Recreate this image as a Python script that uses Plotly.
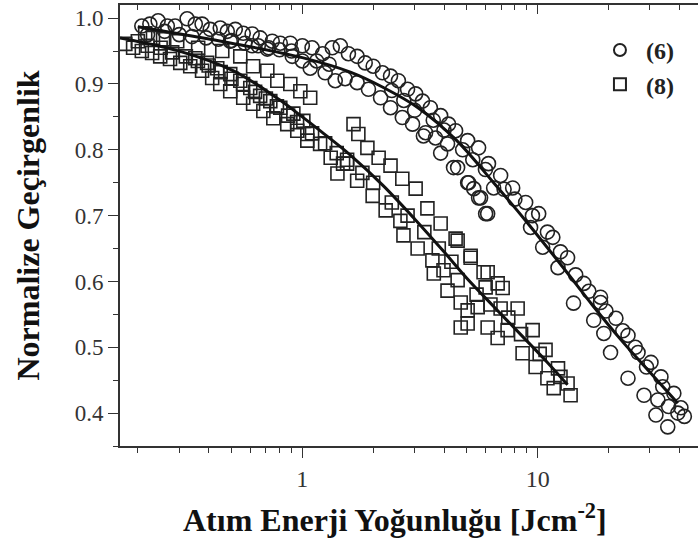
import math
import plotly.graph_objects as go

# ---- data: series (6) circles ----
c6_x = [0.208, 0.225, 0.244, 0.267, 0.288, 0.324, 0.351, 0.375, 0.406, 0.448, 0.480, 0.519,
        0.561, 0.612, 0.662, 0.745, 0.806, 0.889, 1.00, 1.10, 0.906, 1.00, 1.08, 1.22, 1.34,
        1.45, 1.57, 1.71, 1.85, 2.00, 2.19, 2.37, 2.56, 2.80, 3.03, 3.24, 3.50, 3.87, 4.18,
        4.48, 5.04, 5.61, 1.25, 1.38, 1.52, 1.71, 1.91, 2.15, 2.37, 2.66, 2.94, 3.34, 3.68,
        4.14, 3.27, 3.87, 4.39, 5.04, 5.72, 6.13, 5.35, 6.18, 6.50, 4.57, 5.09, 5.61, 6.01,
        6.96, 7.83, 8.89, 10.1, 11.6, 13.4, 15.7, 18.5, 9.33, 10.5, 12.2, 18.5, 21.5, 24.2,
        26.7, 30.3, 33.4, 37.9, 40.6, 14.2, 17.3, 19.1, 20.4, 24.2, 28.3, 32.4, 31.8, 35.7,
        39.4, 0.612, 0.710, 0.494,
        0.22, 0.26, 0.30, 0.34, 0.39, 0.44, 0.50, 0.57, 0.65, 0.72, 0.80, 0.90, 1.15, 1.30,
        2.40, 2.70, 3.00, 3.60, 4.00, 4.80, 5.30, 6.00, 7.20, 8.00, 9.50, 11.0, 12.5, 14.5,
        16.5, 19.5, 23.0, 26.0, 29.0, 34.0, 36.0, 42.0]
c6_y = [0.988, 0.991, 0.996, 0.988, 0.988, 0.999, 0.991, 0.991, 0.983, 0.985, 0.980, 0.983,
        0.977, 0.976, 0.970, 0.965, 0.962, 0.962, 0.958, 0.955, 0.942, 0.935, 0.924, 0.946, 0.955,
        0.958, 0.946, 0.942, 0.932, 0.927, 0.917, 0.912, 0.905, 0.892, 0.885, 0.874, 0.864, 0.852, 0.839,
        0.829, 0.814, 0.803, 0.917, 0.905, 0.908, 0.902, 0.892, 0.879, 0.864, 0.849, 0.839, 0.826, 0.818,
        0.809, 0.821, 0.795, 0.773, 0.750, 0.727, 0.703, 0.741, 0.779, 0.742, 0.773, 0.750, 0.727, 0.703,
        0.761, 0.742, 0.720, 0.703, 0.667, 0.636, 0.597, 0.576, 0.682, 0.652, 0.621, 0.568, 0.544, 0.518,
        0.492, 0.477, 0.455, 0.430, 0.408, 0.567, 0.541, 0.521, 0.492, 0.453, 0.427, 0.420, 0.397, 0.379,
        0.400, 0.958, 0.953, 0.965,
        0.975, 0.980, 0.975, 0.972, 0.970, 0.968, 0.966, 0.962, 0.958, 0.955, 0.952, 0.950, 0.935, 0.930,
        0.890, 0.875, 0.860, 0.845, 0.830, 0.800, 0.785, 0.770, 0.740, 0.725, 0.700, 0.675, 0.645, 0.610,
        0.585, 0.555, 0.525, 0.500, 0.470, 0.440, 0.410, 0.395]

# ---- data: series (8) squares ----
s8_x = [0.177, 0.191, 0.208, 0.230, 0.249, 0.274, 0.303, 0.334, 0.375, 0.414, 0.448, 0.494,
        0.561, 0.618, 0.683, 0.753, 0.863, 0.952, 1.05,
        0.215, 0.232, 0.256, 0.294, 0.361, 0.457, 0.545, 0.618, 0.710, 0.783, 0.889, 0.981, 1.08,
        0.351, 0.394, 0.435, 0.494, 0.545, 0.601, 0.662, 0.731, 0.806, 0.916, 1.01,
        1.05, 1.19, 1.32, 1.49, 1.71, 1.89, 2.11, 2.37, 2.66, 3.03, 3.40, 3.87, 4.48, 5.19, 5.89,
        6.76, 1.99, 2.26, 2.61, 2.69, 3.09, 3.57, 3.98, 4.57, 1.41, 1.55, 1.65, 1.73,
        3.62, 4.14, 4.71, 5.04, 5.56, 6.01, 6.96, 8.22, 6.13, 6.76, 7.45, 9.52, 8.63, 9.80, 10.8,
        11.0, 12.2, 11.7, 13.4, 13.8, 4.71, 5.04, 4.57, 5.19, 6.13, 7.10,
        0.200, 0.220, 0.250, 0.280, 0.320, 0.360, 0.400, 0.450, 0.500, 0.560, 0.630, 0.700,
        0.780, 0.870, 0.950, 1.10, 1.25, 1.40, 1.55, 1.80, 2.00, 2.40, 2.80, 3.30, 3.80, 4.30,
        5.50, 6.30, 7.50, 8.50, 10.2, 12.5]
s8_y = [0.961, 0.955, 0.950, 0.947, 0.942, 0.938, 0.932, 0.927, 0.920, 0.909, 0.900, 0.889,
        0.879, 0.870, 0.859, 0.848, 0.839, 0.829, 0.814,
        0.977, 0.970, 0.968, 0.965, 0.955, 0.950, 0.942, 0.927, 0.920, 0.905, 0.900, 0.889, 0.879,
        0.939, 0.932, 0.924, 0.915, 0.905, 0.894, 0.882, 0.874, 0.864, 0.855, 0.844,
        0.824, 0.809, 0.788, 0.779, 0.753, 0.803, 0.788, 0.776, 0.756, 0.741, 0.711, 0.688, 0.665, 0.639, 0.614,
        0.597, 0.730, 0.708, 0.692, 0.670, 0.650, 0.632, 0.617, 0.602, 0.764, 0.779, 0.839, 0.824,
        0.612, 0.586, 0.568, 0.536, 0.561, 0.591, 0.559, 0.559, 0.530, 0.514, 0.526, 0.526, 0.491, 0.470, 0.496,
        0.453, 0.468, 0.438, 0.445, 0.427, 0.530, 0.556, 0.662, 0.636, 0.614, 0.590,
        0.965, 0.958, 0.955, 0.948, 0.942, 0.935, 0.928, 0.918, 0.908, 0.900, 0.888, 0.878,
        0.866, 0.852, 0.842, 0.825, 0.810, 0.795, 0.785, 0.765, 0.750, 0.720, 0.700, 0.675, 0.650, 0.630,
        0.580, 0.565, 0.545, 0.520, 0.490, 0.455]

# ---- fitted curves ----
fit6_x = [0.2, 0.5, 1.0, 1.6, 2.2, 3.1, 4.5, 6.5, 9.0, 12.9, 17, 22.5, 30, 39.4]
fit6_y = [0.987, 0.962, 0.940, 0.918, 0.895, 0.864, 0.815, 0.750, 0.690, 0.620, 0.565, 0.512, 0.462, 0.415]
fit8_x = [0.168, 0.3, 0.51, 0.8, 1.0, 1.2, 1.6, 2.2, 3.0, 4.0, 5.0, 6.5, 8.7, 11, 13.4]
fit8_y = [0.970, 0.950, 0.920, 0.876, 0.850, 0.828, 0.792, 0.746, 0.695, 0.645, 0.605, 0.562, 0.515, 0.477, 0.443]

series_names = ["(6)", "(8)"]
x_title = "Atım Enerji Yoğunluğu [Jcm<sup>-2</sup>]"
y_title = "Normalize Geçirgenlik"
x_tick_vals = [1, 10]
x_tick_text = ["1", "10"]
x_minor_vals = [0.2, 0.3, 0.4, 0.5, 0.6, 0.7, 0.8, 0.9, 2, 3, 4, 5, 6, 7, 8, 9, 20, 30, 40, 50]
y_tick_vals = [0.4, 0.5, 0.6, 0.7, 0.8, 0.9, 1.0]
x_range = [0.168, 48]
y_range = [0.35, 1.02]

ink = "#222222"
axis_c = "#333333"
serif = "Liberation Serif, Times New Roman, serif"

fig = go.Figure()
fig.add_trace(go.Scatter(x=c6_x, y=c6_y, mode="markers", name=series_names[0], legendgroup="a",
                         marker=dict(symbol="circle-open", size=14, color=ink, line=dict(width=1.6, color=ink))))
fig.add_trace(go.Scatter(x=s8_x, y=s8_y, mode="markers", name=series_names[1], legendgroup="b",
                         marker=dict(symbol="square-open", size=13, color=ink, line=dict(width=1.6, color=ink))))
fig.add_trace(go.Scatter(x=fit6_x, y=fit6_y, mode="lines", showlegend=False,
                         line=dict(color="#111111", width=3, shape="spline", smoothing=1.0)))
fig.add_trace(go.Scatter(x=fit8_x, y=fit8_y, mode="lines", showlegend=False,
                         line=dict(color="#111111", width=3, shape="spline", smoothing=1.0)))
# invisible trace to host the top axis
fig.add_trace(go.Scatter(x=[x_range[0]], y=[y_range[0]], xaxis="x2", mode="markers",
                         marker=dict(opacity=0), showlegend=False, hoverinfo="skip"))

lr = [math.log10(x_range[0]), math.log10(x_range[1])]

fig.update_layout(
    width=699, height=556,
    margin=dict(l=120, r=1, t=5, b=110),
    paper_bgcolor="white", plot_bgcolor="white",
    font=dict(family=serif, color=axis_c),
    showlegend=True,
    legend=dict(x=0.82, y=0.948, xanchor="left", yanchor="top", bgcolor="rgba(0,0,0,0)",
                font=dict(family=serif, size=24, color="#222222", weight="bold"),
                tracegroupgap=0, itemwidth=42, itemsizing="constant"),
    xaxis=dict(type="log", range=lr, showline=True, linecolor=axis_c, linewidth=1.6,
               ticks="outside", ticklen=10, tickwidth=1.4, tickcolor=axis_c,
               tickmode="array", tickvals=x_tick_vals, ticktext=x_tick_text,
               tickfont=dict(size=24, family=serif, color=axis_c),
               minor=dict(tickmode="array", tickvals=x_minor_vals, ticks="outside", ticklen=5,
                          tickwidth=1.4, tickcolor=axis_c, showgrid=False),
               showgrid=False, zeroline=False),
    xaxis2=dict(type="log", range=lr, overlaying="x", side="top", showline=True,
                linecolor=axis_c, linewidth=1.6, ticks="inside", ticklen=9, tickwidth=1.4,
                tickcolor=axis_c, tickmode="array", tickvals=x_tick_vals, showticklabels=False,
                minor=dict(tickmode="array", tickvals=x_minor_vals, ticks="inside", ticklen=5,
                           tickwidth=1.4, tickcolor=axis_c, showgrid=False),
                showgrid=False, zeroline=False),
    yaxis=dict(range=y_range, showline=True, linecolor=axis_c, linewidth=1.6,
               ticks="outside", ticklen=10, tickwidth=1.4, tickcolor=axis_c,
               tickmode="array", tickvals=y_tick_vals, ticktext=[f"{v:.1f}" for v in y_tick_vals],
               tickfont=dict(size=23, family=serif, color=axis_c),
               minor=dict(dtick=0.05, tick0=0.35, ticks="outside", ticklen=5, tickwidth=1.4,
                          tickcolor=axis_c, showgrid=False),
               showgrid=False, zeroline=False,
               title=dict(text=y_title, standoff=26,
                          font=dict(family=serif, size=32, color="#111111", weight="bold"))),
    annotations=[dict(text=x_title, xref="paper", yref="paper", x=0.476, y=-0.163,
                      xanchor="center", yanchor="middle", showarrow=False,
                      font=dict(family=serif, size=32, color="#111111", weight="bold"))],
)

fig.write_html("out.html")
